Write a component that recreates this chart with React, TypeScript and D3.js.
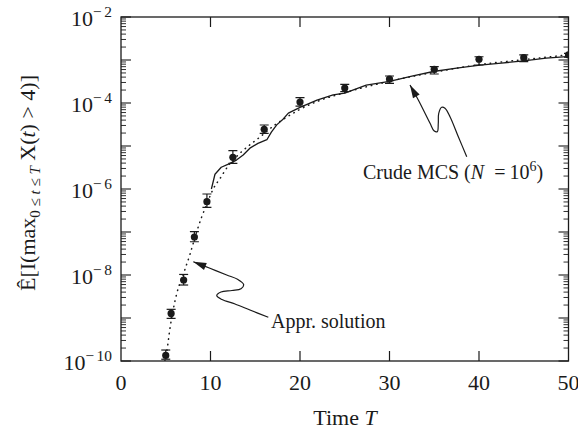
import React from "react";
import * as d3 from "d3";

// ---- data ----
const T_PTS = [5, 5.6, 7, 8.2, 9.6, 12.5, 16, 20, 25, 30, 35, 40, 45, 50];
const EST = [1.35e-10, 1.28e-9, 7.65e-9, 7.65e-8, 5.07e-7, 5.46e-6, 2.44e-5, 1.05e-4, 2.23e-4, 3.61e-4, 6.08e-4, 1.04e-3, 1.13e-3, 1.31e-3];
const CI_LO = [1.1e-10, 0.98e-9, 5.85e-9, 5.94e-8, 3.75e-7, 3.96e-6, 1.97e-5, 8.5e-5, 1.83e-4, 2.87e-4, 4.72e-4, 7.66e-4, 9.12e-4, 1.16e-3];
const CI_HI = [1.8e-10, 1.59e-9, 1.03e-8, 1.02e-7, 7.65e-7, 7.78e-6, 3.08e-5, 1.33e-4, 2.72e-4, 4.25e-4, 6.98e-4, 1.19e-3, 1.31e-3, 1.43e-3];

const APPR_T = [4.9, 5.1, 5.5, 6.2, 7.0, 7.7, 8.4, 9.0, 9.6, 10.3, 11.1, 12.0, 13.3, 14.6, 15.5, 17.2, 18, 20, 22, 25, 30, 35, 40, 45, 50];
const APPR_P = [1e-10, 1.6e-10, 6.3e-10, 3.5e-9, 1.1e-8, 3.0e-8, 9.3e-8, 2.2e-7, 4.5e-7, 1.0e-6, 1.8e-6, 3.5e-6, 6.8e-6, 1.15e-5, 1.6e-5, 3.1e-5, 4.0e-5, 7.1e-5, 1.1e-4, 1.74e-4, 3.2e-4, 5.2e-4, 7.8e-4, 1.02e-3, 1.32e-3];

const MCS_T = [10.1, 10.5, 11.2, 12.0, 12.9, 13.65, 14.4, 15.3, 16.3, 16.8, 17.4, 18.1, 18.7, 20, 21.9, 23.7, 25, 27.4, 30, 32.5, 34.9, 37.5, 40.1, 42.5, 45, 47.5, 49.8];
const MCS_P = [1.0e-6, 2.2e-6, 3.2e-6, 3.8e-6, 4.7e-6, 6.2e-6, 8.9e-6, 1.15e-5, 1.4e-5, 2.1e-5, 3.1e-5, 4.2e-5, 5.8e-5, 7.9e-5, 1.17e-4, 1.55e-4, 1.7e-4, 2.6e-4, 3.2e-4, 4.2e-4, 5.4e-4, 6.5e-4, 7.6e-4, 8.5e-4, 9.5e-4, 1.1e-3, 1.2e-3];

const X_TICKS = [0, 10, 20, 30, 40, 50];
const Y_LABEL_EXP = [-10, -8, -6, -4, -2];
const DECADES = [-10, -9, -8, -7, -6, -5, -4, -3, -2];

// annotation leader curves, in data units (T, log10 value)
const APPR_ARROW_T = [8.08, 9.94, 11.81, 13.07, 13.7, 13.41, 12.4, 11.17, 10.7, 11.28, 12.74, 14.41, 16.46];
const APPR_ARROW_L = [-7.691, -7.844, -8.0, -8.105, -8.22, -8.32, -8.36, -8.395, -8.48, -8.57, -8.674, -8.814, -8.984];
const MCS_ARROW_T = [32.29, 33.22, 34.53, 34.97, 35.34, 35.45, 35.5, 35.83, 36.2, 36.76, 37.69, 38.63];
const MCS_ARROW_L = [-3.581, -3.93, -4.472, -4.644, -4.667, -4.472, -4.24, -4.1, -4.123, -4.319, -4.784, -5.249];

const W = 578, H = 432;
const M = { left: 121, right: 9.5, top: 17, bottom: 71 };
const FONT = "'Liberation Serif', 'Times New Roman', serif";
const INK = "#1a1a1a";

export default function App() {
  const x = d3.scaleLinear().domain([0, 50]).range([M.left, W - M.right]);
  const y = d3.scaleLog().domain([1e-10, 1e-2]).range([H - M.bottom, M.top]);
  const x0 = M.left, x1 = W - M.right, y0 = H - M.bottom, y1 = M.top;

  const line = d3.line<[number, number]>().x(d => x(d[0])).y(d => y(d[1]));
  const apprPath = d3.line<[number, number]>().x(d => x(d[0])).y(d => y(d[1])).curve(d3.curveMonotoneX)(APPR_T.map((t, i) => [t, APPR_P[i]]));
  const mcsPath = line(MCS_T.map((t, i) => [t, MCS_P[i]]));

  const minor: number[] = [];
  DECADES.slice(0, -1).forEach(e => { for (let k = 2; k <= 9; k++) minor.push(k * Math.pow(10, e)); });

  const arrow = (ts: number[], ls: number[]) => {
    const pts: [number, number][] = ts.map((t, i) => [x(t), y(Math.pow(10, ls[i]))]);
    const d = d3.line().curve(d3.curveCatmullRom.alpha(0.5))(pts) || "";
    const [tx, ty] = pts[0];
    const [nx, ny] = pts[1];
    const ang = Math.atan2(ny - ty, nx - tx);
    const L = 13, hw = 3.8;
    const bx = tx + L * Math.cos(ang), by = ty + L * Math.sin(ang);
    const head = `M${tx},${ty}L${bx - hw * Math.sin(ang)},${by + hw * Math.cos(ang)}L${bx + hw * Math.sin(ang)},${by - hw * Math.cos(ang)}Z`;
    return { d, head };
  };
  const a1 = arrow(APPR_ARROW_T, APPR_ARROW_L);
  const a2 = arrow(MCS_ARROW_T, MCS_ARROW_L);

  return (
    <svg width={W} height={H} style={{ position: "absolute", left: 0, top: 0, background: "#fff" }} fontFamily={FONT}>
      <defs>
        <clipPath id="plot"><rect x={x0} y={y1} width={x1 - x0} height={y0 - y1} /></clipPath>
      </defs>
      {/* frame */}
      <rect x={x0} y={y1} width={x1 - x0} height={y0 - y1} fill="none" stroke={INK} strokeWidth={1.3} />
      {/* x ticks */}
      {X_TICKS.filter(t => t > 0 && t < 50).map(t => (
        <g key={"xt" + t} stroke={INK} strokeWidth={1.2}>
          <line x1={x(t)} x2={x(t)} y1={y0} y2={y0 - 10} />
          <line x1={x(t)} x2={x(t)} y1={y1} y2={y1 + 10} />
        </g>
      ))}
      {X_TICKS.map(t => (
        <text key={"xl" + t} x={x(t)} y={y0 + 29} textAnchor="middle" fontSize={22} fill={INK}>{t}</text>
      ))}
      {/* y ticks */}
      {DECADES.map(e => (
        <g key={"yM" + e} stroke={INK} strokeWidth={1.1}>
          <line x1={x0} x2={x0 + 10} y1={y(Math.pow(10, e))} y2={y(Math.pow(10, e))} />
          <line x1={x1} x2={x1 - 10} y1={y(Math.pow(10, e))} y2={y(Math.pow(10, e))} />
        </g>
      ))}
      {minor.map((v, i) => (
        <g key={"ym" + i} stroke={INK} strokeWidth={0.9}>
          <line x1={x0} x2={x0 + 5} y1={y(v)} y2={y(v)} />
          <line x1={x1} x2={x1 - 5} y1={y(v)} y2={y(v)} />
        </g>
      ))}
      {Y_LABEL_EXP.map(e => (
        <text key={"yl" + e} x={112} y={y(Math.pow(10, e)) + 9} textAnchor="end" fontSize={22} fill={INK}>
          10<tspan dy={-9} fontSize={15.4}>−</tspan><tspan dx={2.5} fontSize={15.4}>{Math.abs(e)}</tspan>
        </text>
      ))}
      {/* curves */}
      <g clipPath="url(#plot)" fill="none">
        <path d={apprPath || ""} stroke={INK} strokeWidth={1.5} strokeDasharray="0.5 5" strokeLinecap="round" />
        <path d={mcsPath || ""} stroke={INK} strokeWidth={1.3} strokeLinejoin="round" />
      </g>
      {/* estimates with error bars */}
      <g clipPath="url(#plot)">
        {T_PTS.map((t, i) => (
          <g key={"p" + i} stroke={INK} strokeWidth={1.2}>
            <line x1={x(t)} x2={x(t)} y1={y(CI_LO[i])} y2={y(CI_HI[i])} />
            <line x1={x(t) - 4.5} x2={x(t) + 4.5} y1={y(CI_LO[i])} y2={y(CI_LO[i])} />
            <line x1={x(t) - 4.5} x2={x(t) + 4.5} y1={y(CI_HI[i])} y2={y(CI_HI[i])} />
            <circle cx={x(t)} cy={y(EST[i])} r={3.6} fill={INK} stroke="none" />
          </g>
        ))}
      </g>
      {/* annotations */}
      <path d={a1.d} fill="none" stroke={INK} strokeWidth={1.2} />
      <path d={a1.head} fill={INK} />
      <path d={a2.d} fill="none" stroke={INK} strokeWidth={1.2} />
      <path d={a2.head} fill={INK} />
      <text x={271} y={328} fontSize={20} fill={INK}>Appr. solution</text>
      <text x={363} y={179} fontSize={20} fill={INK}>
        Crude MCS (<tspan fontStyle="italic">N</tspan><tspan dx={10}>=</tspan><tspan dx={4}>10</tspan><tspan dy={-8} fontSize={14}>6</tspan><tspan dy={8}>)</tspan>
      </text>
      {/* axis titles */}
      <text x={345} y={425} textAnchor="middle" fontSize={22} fill={INK}>Time <tspan fontStyle="italic">T</tspan></text>
      <text transform="translate(35,183) rotate(-90)" textAnchor="middle" fontSize={22} fill={INK}>
        Ê[I(max<tspan fontSize={15} dy={5}>0 ≤ </tspan><tspan fontSize={15} fontStyle="italic">t</tspan><tspan fontSize={15}> ≤ </tspan><tspan fontSize={15} fontStyle="italic">T</tspan><tspan dy={-5}> X(</tspan><tspan fontStyle="italic">t</tspan><tspan>) &gt; 4)]</tspan>
      </text>
    </svg>
  );
}
